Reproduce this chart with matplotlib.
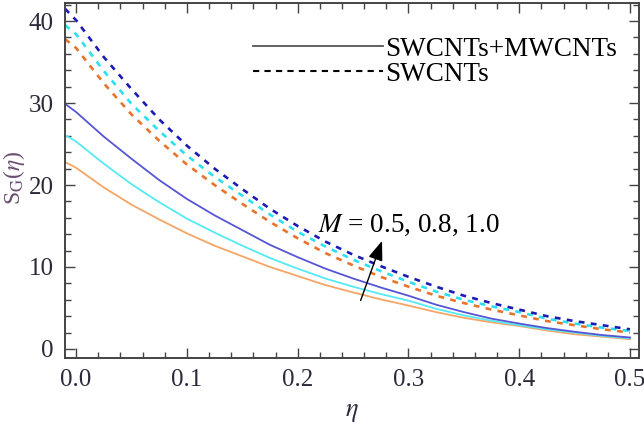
import numpy as np
import matplotlib
matplotlib.use('Agg')
import matplotlib.pyplot as plt
import matplotlib.ticker as ticker
from matplotlib.lines import Line2D

plt.rcParams['font.family'] = ['Liberation Serif', 'DejaVu Serif']
plt.rcParams['mathtext.fontset'] = 'stix'

# eta grid
eta = [-0.01, 0.0, 0.025, 0.05, 0.075, 0.1, 0.125, 0.15, 0.175, 0.2, 0.225,
       0.25, 0.275, 0.3, 0.325, 0.35, 0.375, 0.4, 0.425, 0.45, 0.475, 0.5]

# SWCNTs+MWCNTs (solid), M = 0.5, 0.8, 1.0
hyb_m05 = [22.8, 22.1, 19.7, 17.6, 15.8, 14.1, 12.6, 11.3, 10.0, 8.9, 7.8,
           6.9, 6.05, 5.3, 4.5, 3.8, 3.25, 2.8, 2.25, 1.8, 1.5, 1.2]
hyb_m08 = [26.1, 25.3, 22.6, 20.1, 17.9, 15.9, 14.2, 12.6, 11.1, 9.8, 8.6,
           7.6, 6.7, 5.9, 4.9, 4.1, 3.45, 2.9, 2.4, 2.0, 1.6, 1.3]
hyb_m10 = [29.9, 28.9, 25.9, 23.2, 20.6, 18.3, 16.3, 14.5, 12.7, 11.2, 9.8,
           8.6, 7.5, 6.5, 5.4, 4.5, 3.7, 3.1, 2.55, 2.1, 1.7, 1.4]

# SWCNTs (dashed), M = 0.5, 0.8, 1.0
sw_m05 = [37.8, 36.7, 32.4, 28.6, 25.4, 22.5, 20.0, 17.7, 15.5, 13.5, 11.7,
          10.2, 8.8, 7.6, 6.5, 5.6, 4.8, 4.1, 3.4, 2.9, 2.4, 2.0]
sw_m08 = [39.5, 38.4, 33.9, 29.9, 26.6, 23.6, 21.0, 18.7, 16.4, 14.3, 12.5,
          10.9, 9.5, 8.2, 7.0, 6.0, 5.2, 4.5, 3.7, 3.1, 2.6, 2.2]
sw_m10 = [41.5, 40.1, 35.6, 31.7, 28.0, 24.8, 22.0, 19.5, 17.1, 15.0, 13.1,
          11.5, 10.1, 8.8, 7.6, 6.5, 5.6, 4.8, 4.0, 3.4, 2.9, 2.4]

xticks = [0.0, 0.1, 0.2, 0.3, 0.4, 0.5]
yticks = [0, 10, 20, 30, 40]


def main():
    fig = plt.figure(figsize=(6.44, 4.29), dpi=100)
    ax = fig.add_axes([0.101, 0.1655, 0.891, 0.8275])

    ax.plot(eta, hyb_m05, c='#f5a565', lw=1.3)
    ax.plot(eta, hyb_m08, c='#55eaf2', lw=1.3)
    ax.plot(eta, hyb_m10, c='#5555d5', lw=1.3)

    ax.plot(eta, sw_m05, c='#e8742c', lw=1.9, ls=(0, (2.2, 2.4)))
    ax.plot(eta, sw_m08, c='#2ee0ee', lw=1.9, ls=(0, (2.2, 2.4)))
    ax.plot(eta, sw_m10, c='#1c1cb5', lw=1.9, ls=(0, (2.2, 2.4)))

    ax.set_xlim(-0.01, 0.508)
    ax.set_ylim(-1.1, 42.2)

    ax.xaxis.set_major_locator(ticker.FixedLocator(xticks))
    ax.xaxis.set_major_formatter(ticker.FormatStrFormatter('%.1f'))
    ax.xaxis.set_minor_locator(ticker.MultipleLocator(0.02))
    ax.yaxis.set_major_locator(ticker.FixedLocator(yticks))
    ax.yaxis.set_minor_locator(ticker.MultipleLocator(2))

    ax.tick_params(which='both', direction='in', top=True, right=True,
                   color='#444444', width=1.0)
    ax.tick_params(which='major', length=7, labelsize=18,
                   labelcolor='#2a2a3a', pad=8)
    ax.tick_params(which='minor', length=4)
    for s in ax.spines.values():
        s.set_color('#444444')
        s.set_linewidth(1.4)

    ax.set_xlabel(r'$\eta$', fontsize=19, color='#2a2a3a', labelpad=8)
    fig.text(14 / 644, 1 - 178 / 429, r'S$_{\mathrm{G}}$($\eta$)',
             rotation=90, ha='center', va='center', fontsize=17,
             color='#6a5070')

    # M arrow
    ax.annotate('', xy=(0.277, 13.5), xytext=(0.256, 5.6),
                arrowprops=dict(arrowstyle='-|>,head_length=1.2,head_width=0.45',
                                color='k', lw=1.0))
    ax.text(0.218, 14.3, r'$M$ = 0.5, 0.8, 1.0', fontsize=19.5,
            ha='left', va='baseline')

    handles = [Line2D([], [], c='#555555', lw=1.3),
               Line2D([], [], c='k', lw=1.5, ls=(0, (3, 2.5)))]
    ax.legend(handles, ['SWCNTs+MWCNTs', 'SWCNTs'], loc='upper left',
              bbox_to_anchor=(0.3275, 0.905), frameon=False, fontsize=19.5,
              handlelength=4.8, handletextpad=0.08, labelspacing=0.0,
              borderpad=0, borderaxespad=0)

    fig.savefig('out.png', dpi=100)
    return True


if __name__ == "__main__":

    main()
